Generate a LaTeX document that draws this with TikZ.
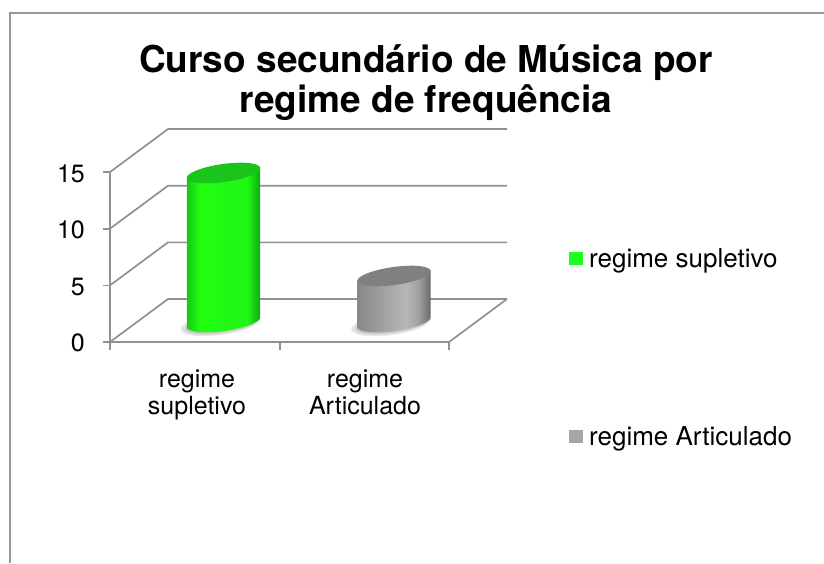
\documentclass[tikz,border=0pt]{standalone}
\usepackage{fontspec}
\setmainfont{TeX Gyre Heros}
\definecolor{gridc}{RGB}{145,145,145}
\definecolor{framec}{RGB}{150,150,150}
\definecolor{gL}{RGB}{24,200,24}
\definecolor{gM}{RGB}{34,255,18}
\definecolor{gM2}{RGB}{32,248,20}
\definecolor{gR}{RGB}{16,170,16}
\definecolor{gTop}{RGB}{26,196,26}
\definecolor{aL}{RGB}{135,135,135}
\definecolor{aM}{RGB}{160,160,160}
\definecolor{aM2}{RGB}{182,182,182}
\definecolor{aR}{RGB}{105,105,105}
\definecolor{aTop}{RGB}{128,128,128}
\definecolor{legG}{RGB}{30,255,30}
\definecolor{legA}{RGB}{166,166,166}
\pgfdeclarehorizontalshading{greenbar}{100bp}{color(0bp)=(gL); color(25bp)=(gL); color(34bp)=(gM); color(52bp)=(gM2); color(66bp)=(gM2); color(75bp)=(gR); color(100bp)=(gR)}
\pgfdeclarehorizontalshading{graybar}{100bp}{color(0bp)=(aL); color(25bp)=(aL); color(42bp)=(aM); color(58bp)=(aM2); color(67bp)=(aM); color(75bp)=(aR); color(100bp)=(aR)}
\newcommand\mycyl[5]{%
  \fill[black,opacity=0.10] plot[domain=0:360,samples=60,variable=\t]({#1-3+40*cos(\t)*cos(8)+11*sin(\t)*sin(8)},{#3+2-40*cos(\t)*sin(8)+11*sin(\t)*cos(8)}) -- cycle;
  \fill[black,opacity=0.12] plot[domain=0:360,samples=60,variable=\t]({#1-2+37*cos(\t)*cos(8)+9*sin(\t)*sin(8)},{#3+2-37*cos(\t)*sin(8)+9*sin(\t)*cos(8)}) -- cycle;
  \shade[shading=#4] plot[domain=1.96:181.96,samples=50,variable=\t]({#1+37*cos(\t)*cos(8)+9*sin(\t)*sin(8)},{#3-37*cos(\t)*sin(8)+9*sin(\t)*cos(8)}) -- ({#1-36.66},{#2+4.84}) -- ({#1+36.66},{#2-4.84}) -- cycle;
  \fill[#5] plot[domain=0:360,samples=72,variable=\t]({#1+37*cos(\t)*cos(8)+9*sin(\t)*sin(8)},{#2-37*cos(\t)*sin(8)+9*sin(\t)*cos(8)}) -- cycle;
}
\tikzset{
  grid/.style={draw=gridc,line width=1.7pt},
  frameline/.style={draw=framec,line width=2pt},
  lbl/.style={inner sep=0pt,font=\fontsize{25}{27}\selectfont},
  leg/.style={inner sep=0pt,font=\fontsize{26}{28}\selectfont},
  ttl/.style={inner sep=0pt,anchor=base,font=\fontsize{37}{40}\bfseries\selectfont},
}
\begin{document}
\begin{tikzpicture}[x=1pt,y=-1pt]
\useasboundingbox[fill=white] (0,0) rectangle (824,563);
% frame
\coordinate (fTL) at (10,13);
\coordinate (fTR) at (824,13);
\coordinate (fBL) at (10,563);
\draw[frameline] (fTR) -- (fTL) -- (fBL);
% title
\node[ttl] (t1) at (426,72) {Curso secundário de Música por};
\node[ttl] (t2) at (426,112) {regime de frequência};
% grid: front axis points and back points
\foreach \v/\n in {0/a,5/b,10/c,15/d}{
  \coordinate (F\n) at (110,{342-\v*11.33});
  \coordinate (B\n) at (168,{342-\v*11.33-43});
  \coordinate (E\n) at (507,{342-\v*11.33-43});
  \coordinate (T\n) at (103,{342-\v*11.33});
  \draw[grid] (F\n) -- (B\n) -- (E\n);
  \draw[grid] (T\n) -- (F\n);
}
\draw[grid] (Fa) -- (Fd);
\coordinate (Fr) at (449,342);
\draw[grid] (Fa) -- (Fr) -- (Ea);
\coordinate (c0) at (110,350);
\coordinate (c1) at (280,342);
\coordinate (c1b) at (280,350);
\coordinate (c2b) at (449,350);
\draw[grid] (Fa) -- (c0);
\draw[grid] (c1) -- (c1b);
\draw[grid] (Fr) -- (c2b);
% bars
\mycyl{223.5}{173}{322}{greenbar}{gTop}
\mycyl{394}{276}{322}{graybar}{aTop}
% y labels
\node[lbl,anchor=east] (y0) at (85,343) {0};
\node[lbl,anchor=east] (y5) at (85,287) {5};
\node[lbl,anchor=east] (y10) at (85,230) {10};
\node[lbl,anchor=east] (y15) at (85,174) {15};
% category labels
\node[lbl,anchor=base] (k1a) at (197,387) {regime};
\node[lbl,anchor=base] (k1b) at (197,414) {supletivo};
\node[lbl,anchor=base] (k2a) at (365,387) {regime};
\node[lbl,anchor=base] (k2b) at (365,414) {Articulado};
% legend
\fill[legG] (569,252) rectangle (583,265);
\node[leg,anchor=base west] (l1) at (589,267) {regime supletivo};
\fill[legA] (569,430) rectangle (583,443);
\node[leg,anchor=base west] (l2) at (589,445) {regime Articulado};
\end{tikzpicture}
\end{document}
